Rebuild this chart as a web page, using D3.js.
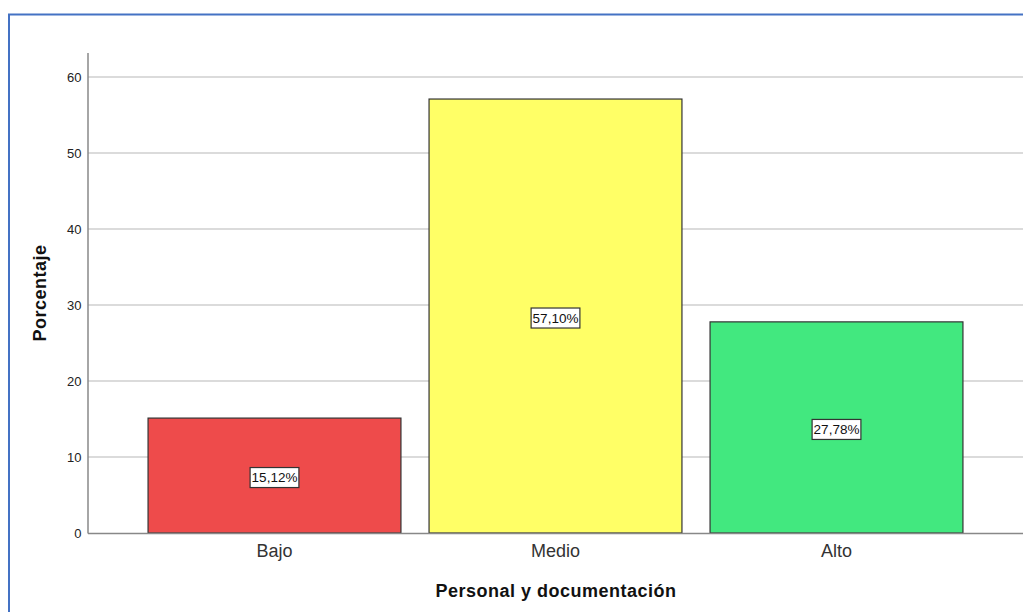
<!DOCTYPE html>
<html><head><meta charset="utf-8">
<script src="https://cdn.jsdelivr.net/npm/d3@7"></script>
<style>body{margin:0;background:#fff}svg{display:block;font-family:"Liberation Sans",Arial,sans-serif}</style>
</head><body>
<script>
const categories = ["Bajo", "Medio", "Alto"];
const values = [15.12, 57.10, 27.78];
const valueLabels = ["15,12%", "57,10%", "27,78%"];
const colors = ["#EE4B4B", "#FFFF66", "#42E87F"];
const yTicks = [0, 10, 20, 30, 40, 50, 60];

const W = 1023, H = 612;
const svg = d3.select("body").append("svg").attr("width", W).attr("height", H);

// frame
svg.append("rect").attr("x", 9).attr("y", 14.5).attr("width", W + 10).attr("height", H + 10)
  .attr("fill", "#fff").attr("stroke", "#4472C4").attr("stroke-width", 2);

const x = d3.scaleBand().domain(categories).range([134, 977]).paddingInner(0.1).paddingOuter(0.05);
const y = d3.scaleLinear().domain([0, 60]).range([533, 77]);

// gridlines
svg.append("g").selectAll("line").data(yTicks.filter(d => d > 0)).join("line")
  .attr("x1", 88).attr("x2", W).attr("y1", d => y(d)).attr("y2", d => y(d))
  .attr("stroke", "#cfcfcf").attr("stroke-width", 1.5);

// bars
svg.append("g").selectAll("rect").data(categories).join("rect")
  .attr("x", d => x(d)).attr("width", x.bandwidth())
  .attr("y", (d, i) => y(values[i])).attr("height", (d, i) => y(0) - y(values[i]))
  .attr("fill", (d, i) => colors[i]).attr("stroke", "#333").attr("stroke-width", 1.2);

// axes lines
svg.append("line").attr("x1", 88).attr("x2", 88).attr("y1", 53).attr("y2", 533.5)
  .attr("stroke", "#888").attr("stroke-width", 1.5);
svg.append("line").attr("x1", 88).attr("x2", W).attr("y1", 533.5).attr("y2", 533.5)
  .attr("stroke", "#888").attr("stroke-width", 1.5);

// y tick labels
svg.append("g").selectAll("text").data(yTicks).join("text")
  .attr("x", 81.5).attr("y", d => y(d)).attr("dy", "0.36em").attr("text-anchor", "end")
  .attr("font-size", 13).attr("fill", "#222").text(d => d);

// x category labels
svg.append("g").selectAll("text").data(categories).join("text")
  .attr("x", d => x(d) + x.bandwidth() / 2).attr("y", 557).attr("text-anchor", "middle")
  .attr("font-size", 18).attr("fill", "#333").text(d => d);

// value labels
const lg = svg.append("g").selectAll("g").data(categories).join("g")
  .attr("transform", (d, i) => `translate(${x(d) + x.bandwidth() / 2},${y(values[i] / 2) + 2})`);
lg.append("text").attr("text-anchor", "middle").attr("dy", "0.36em")
  .attr("font-size", 13.5).attr("fill", "#111").text((d, i) => valueLabels[i])
  .each(function () {
    const b = this.getBBox();
    d3.select(this.parentNode).insert("rect", "text")
      .attr("x", b.x - 1.5).attr("y", -10).attr("width", b.width + 3).attr("height", 20)
      .attr("fill", "#fff").attr("stroke", "#333").attr("stroke-width", 1.2);
  });

// axis titles
svg.append("text").attr("transform", "translate(46,293) rotate(-90)").attr("text-anchor", "middle")
  .attr("font-size", 18).attr("font-weight", "bold").attr("letter-spacing", 0.5).attr("fill", "#111").text("Porcentaje");
svg.append("text").attr("x", 556).attr("y", 597).attr("text-anchor", "middle")
  .attr("font-size", 18).attr("font-weight", "bold").attr("letter-spacing", 0.5).attr("fill", "#111").text("Personal y documentación");
</script>
</body></html>
